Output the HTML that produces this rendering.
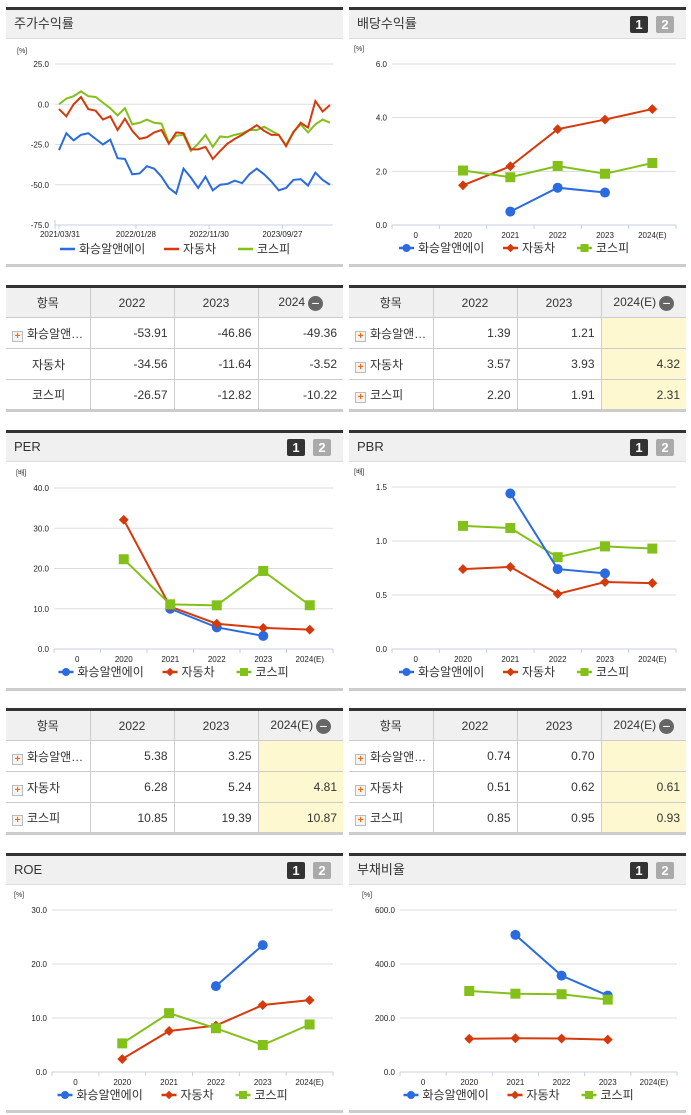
<!DOCTYPE html>
<html><head><meta charset="utf-8">
<style>
*{margin:0;padding:0;box-sizing:border-box}
body{width:691px;height:1115px;background:#fff;position:relative;overflow:hidden;font-family:"Liberation Sans","Noto Sans CJK KR",sans-serif;color:#333}
.abs{position:absolute}
.ph{position:absolute;height:32px;background:#f0f0f0;border-top:3px solid #333;border-bottom:1px solid #ddd;font-size:13px;line-height:28px;padding-left:8px;color:#333}
.pb{position:absolute;height:3px;background:#ccc}
.b1,.b2{position:absolute;top:6px;width:18px;height:17px;font-size:13px;font-weight:bold;color:#fff;text-align:center;line-height:17px;border-radius:2px}
.b1{background:#333}.b2{background:#aaa}
table{position:absolute;border-collapse:collapse;border-top:3px solid #333;border-bottom:3px solid #ccc;font-size:12px}
td,th{border:1px solid #ccc;height:31px;font-weight:normal}
td:first-child,th:first-child{border-left:none}
td:last-child,th:last-child{border-right:none}
th{background:#f0f0f0;text-align:center}
td{text-align:right;padding-right:6px}
td.n{text-align:left;padding-left:6px}
td.y{background:#fdf8d0}
.pl{display:inline-block;width:11px;height:11px;border:1px solid #bbb;background:#f4f4f4;color:#f60;font-size:10px;line-height:9px;text-align:center;font-weight:bold;margin-right:4px;vertical-align:-1px}
.mn{display:inline-block;width:15px;height:15px;border-radius:50%;background:#666;color:#fff;line-height:14px;font-size:14px;text-align:center;vertical-align:-2px;margin-left:3px}
svg{position:absolute;left:0;top:0}
svg text{font-family:"Liberation Sans","Noto Sans CJK KR",sans-serif}
</style></head><body>

<div class="ph" style="left:6px;top:7px;width:337px">주가수익률</div>
<div class="pb" style="left:6px;top:264px;width:337px"></div>
<div class="ph" style="left:349px;top:7px;width:337px">배당수익률<div class="b1" style="left:281px">1</div><div class="b2" style="left:307px">2</div></div>
<div class="pb" style="left:349px;top:264px;width:337px"></div>

<div class="ph" style="left:6px;top:430px;width:337px">PER<div class="b1" style="left:281px">1</div><div class="b2" style="left:307px">2</div></div>
<div class="pb" style="left:6px;top:688px;width:337px"></div>
<div class="ph" style="left:349px;top:430px;width:337px">PBR<div class="b1" style="left:281px">1</div><div class="b2" style="left:307px">2</div></div>
<div class="pb" style="left:349px;top:688px;width:337px"></div>

<div class="ph" style="left:6px;top:853px;width:337px">ROE<div class="b1" style="left:281px">1</div><div class="b2" style="left:307px">2</div></div>
<div class="pb" style="left:6px;top:1110px;width:337px"></div>
<div class="ph" style="left:349px;top:853px;width:337px">부채비율<div class="b1" style="left:281px">1</div><div class="b2" style="left:307px">2</div></div>
<div class="pb" style="left:349px;top:1110px;width:337px"></div>

<table style="left:6px;top:285px;width:337px">
<tr><th style="width:84px">항목</th><th style="width:84px">2022</th><th style="width:84px">2023</th><th>2024<span class="mn">−</span></th></tr>
<tr><td class="n"><span class="pl">+</span>화승알앤…</td><td>-53.91</td><td>-46.86</td><td>-49.36</td></tr>
<tr><td class="n" style="padding-left:26px">자동차</td><td>-34.56</td><td>-11.64</td><td>-3.52</td></tr>
<tr><td class="n" style="padding-left:26px">코스피</td><td>-26.57</td><td>-12.82</td><td>-10.22</td></tr>
</table>
<table style="left:349px;top:285px;width:337px">
<tr><th style="width:84px">항목</th><th style="width:84px">2022</th><th style="width:84px">2023</th><th>2024(E)<span class="mn">−</span></th></tr>
<tr><td class="n"><span class="pl">+</span>화승알앤…</td><td>1.39</td><td>1.21</td><td class="y"></td></tr>
<tr><td class="n"><span class="pl">+</span>자동차</td><td>3.57</td><td>3.93</td><td class="y">4.32</td></tr>
<tr><td class="n"><span class="pl">+</span>코스피</td><td>2.20</td><td>1.91</td><td class="y">2.31</td></tr>
</table>
<table style="left:6px;top:708px;width:337px">
<tr><th style="width:84px">항목</th><th style="width:84px">2022</th><th style="width:84px">2023</th><th>2024(E)<span class="mn">−</span></th></tr>
<tr><td class="n"><span class="pl">+</span>화승알앤…</td><td>5.38</td><td>3.25</td><td class="y"></td></tr>
<tr><td class="n"><span class="pl">+</span>자동차</td><td>6.28</td><td>5.24</td><td class="y">4.81</td></tr>
<tr><td class="n"><span class="pl">+</span>코스피</td><td>10.85</td><td>19.39</td><td class="y">10.87</td></tr>
</table>
<table style="left:349px;top:708px;width:337px">
<tr><th style="width:84px">항목</th><th style="width:84px">2022</th><th style="width:84px">2023</th><th>2024(E)<span class="mn">−</span></th></tr>
<tr><td class="n"><span class="pl">+</span>화승알앤…</td><td>0.74</td><td>0.70</td><td class="y"></td></tr>
<tr><td class="n"><span class="pl">+</span>자동차</td><td>0.51</td><td>0.62</td><td class="y">0.61</td></tr>
<tr><td class="n"><span class="pl">+</span>코스피</td><td>0.85</td><td>0.95</td><td class="y">0.93</td></tr>
</table>

<svg id="svg" width="691" height="1115"></svg>

<script>
// Stock return time series
const dateTicks = ["2021/03/31","2022/01/28","2022/11/30","2023/09/27"];
const dateTickIdx = [0,10.5,20.5,30.5];
const stockBlue = [-28.5,-18,-22.5,-19,-18,-21.5,-25,-22,-33.5,-34,-43.5,-43,-38.5,-40,-45,-52,-55.5,-40,-45.5,-52,-45,-53.5,-50,-49.5,-47.5,-49,-43.5,-40,-43.5,-48,-53.5,-52,-47,-46.5,-50.5,-42.5,-47,-50];
const stockRed = [-3,-7.5,0,4.5,-3,-4,-9.5,-7.5,-16,-9,-16.5,-21.5,-20.5,-17.5,-16,-24.5,-17.5,-18,-28,-28,-26.5,-34,-29,-24.5,-21.5,-19,-16,-13,-16.5,-19,-19,-26,-17.5,-11.5,-14.5,2,-4.5,-0.5];
const stockGreen = [0,3.5,5,8,5,4.5,1,-2.5,-7,-2.5,-12.5,-11.5,-9.5,-11.5,-12,-24,-19.5,-19,-29,-24.5,-19,-26.5,-20,-20.5,-19,-18,-16,-16,-14,-16.5,-19,-25.5,-17,-12.5,-17.5,-12.5,-9.5,-11.5];
const stockTicks = [25,0,-25,-50,-75];

// Categorical charts
const categories = ["0","2020","2021","2022","2023","2024(E)"];
const divBlue = [null,null,0.5,1.39,1.21,null];
const divRed = [null,1.48,2.19,3.57,3.93,4.32];
const divGreen = [null,2.03,1.78,2.20,1.91,2.31];
const perBlue = [null,null,10.0,5.38,3.25,null];
const perRed = [null,32.1,10.5,6.28,5.24,4.81];
const perGreen = [null,22.3,11.1,10.85,19.39,10.87];
const pbrBlue = [null,null,1.44,0.74,0.70,null];
const pbrRed = [null,0.74,0.76,0.51,0.62,0.61];
const pbrGreen = [null,1.14,1.12,0.85,0.95,0.93];
const roeBlue = [null,null,null,15.9,23.5,null];
const roeRed = [null,2.4,7.6,8.6,12.4,13.3];
const roeGreen = [null,5.3,10.9,8.1,5.0,8.8];
const debtBlue = [null,null,508,357,283,null];
const debtRed = [null,123,125,124,120,null];
const debtGreen = [null,300,290,288,268,null];
const legendNames = ["화승알앤에이","자동차","코스피"];

const svg = document.getElementById('svg');
const NS = 'http://www.w3.org/2000/svg';
const C = {b:'#2a6be0',r:'#d53a0c',g:'#84c01a'};
function mk(tag, a, parent){const e=document.createElementNS(NS,tag);for(const k in a)e.setAttribute(k,a[k]);(parent||svg).appendChild(e);return e;}
function txt(x,y,s,size,anchor,parent,fill){const t=mk('text',{x:x,y:y,'font-size':size,'text-anchor':anchor||'start',fill:fill||'#333'},parent);t.textContent=s;return t;}

function legend(cx,y,g,markers){
  const items=[[C.b,legendNames[0],82],[C.r,legendNames[1],52],[C.g,legendNames[2],50]];
  let total=0; items.forEach(i=>total+=i[2]+22);
  let x=cx-total/2;
  items.forEach((it,k)=>{
    const lg=mk('g',{},g);
    
    
    mk('line',{x1:x,y1:y-4,x2:x+15,y2:y-4,stroke:it[0],'stroke-width':2.5},lg);
    if(markers){
      if(k==0) mk('circle',{cx:x+7.5,cy:y-4,r:4,fill:it[0]},lg);
      if(k==1) mk('rect',{x:x+4.5,y:y-7,width:6,height:6,fill:it[0],transform:`rotate(45 ${x+7.5} ${y-4})`},lg);
      if(k==2) mk('rect',{x:x+3.5,y:y-8,width:8,height:8,fill:it[0]},lg);
    }
    txt(x+19,y,it[1],12,'start',lg,'#333');
    x+=it[2]+22;
  });
}

function catChart(name,x0,x1,yTop,yBot,max,ticks,unit,series){
  const g=mk('g',{});
  
  
  const n=categories.length, w=(x1-x0)/n;
  const X=i=>x0+w*(i+0.5);
  const Y=v=>yBot-(v/max)*(yBot-yTop);
  txt(x0-38,yTop-13,unit,7,'start',g);
  ticks.forEach(t=>{
    if(t>0) mk('line',{x1:x0,y1:Y(t),x2:x1,y2:Y(t),stroke:'#ddd','stroke-width':1},g);
    txt(x0-5,Y(t)+3,t.toFixed(1),8,'end',g,'#222');
  });
  mk('line',{x1:x0,y1:yBot,x2:x1,y2:yBot,stroke:'#c5cfe0','stroke-width':1},g);
  for(let i=0;i<=n;i++) mk('line',{x1:x0+w*i,y1:yBot,x2:x0+w*i,y2:yBot+4,stroke:'#c5cfe0'},g);
  categories.forEach((c,i)=>txt(X(i),yBot+13,c,8,'middle',g,'#222'));
  series.forEach(([vals,col,shape])=>{
    const sg=mk('g',{},g);
    
    
    let pts=[];vals.forEach((v,i)=>{if(v!==null)pts.push([X(i),Y(v)]);});
    mk('polyline',{points:pts.map(p=>p.join(',')).join(' '),fill:'none',stroke:col,'stroke-width':2},sg);
    pts.forEach(p=>{
      let m;
      if(shape=='circle') m=mk('circle',{cx:p[0],cy:p[1],r:5,fill:col},sg);
      else if(shape=='diamond') m=mk('rect',{x:p[0]-3.5,y:p[1]-3.5,width:7,height:7,fill:col,transform:`rotate(45 ${p[0]} ${p[1]})`},sg);
      else m=mk('rect',{x:p[0]-5,y:p[1]-5,width:10,height:10,fill:col},sg);
      
      
    });
  });
  legend((x0+x1)/2-10,yBot+27,g,true);
}

// stock chart
(function(){
  const g=mk('g',{});
  
  
  const x0=55,x1=333,px0=59,px1=330,yTop=64,yBot=225,max=25,min=-75;
  const Y=v=>yBot-(v-min)/(max-min)*(yBot-yTop);
  const N=stockBlue.length;
  const X=i=>px0+i*(px1-px0)/(N-1);
  txt(17,53,'[%]',7,'start',g);
  stockTicks.forEach(t=>{
    if(t>min) mk('line',{x1:x0,y1:Y(t),x2:x1,y2:Y(t),stroke:'#ddd'},g);
    txt(x0-6,Y(t)+3,t.toFixed(1),8,'end',g,'#222');
  });
  mk('line',{x1:x0,y1:yBot,x2:x1,y2:yBot,stroke:'#c5cfe0'},g);
  mk('line',{x1:x0,y1:yBot-5,x2:x0,y2:yBot+4,stroke:'#c5cfe0'},g);
  dateTicks.forEach((d,k)=>{
    const xx=X(dateTickIdx[k]);
    mk('line',{x1:xx,y1:yBot,x2:xx,y2:yBot+4,stroke:'#c5cfe0'},g);
    txt(k==0?xx+1:xx,yBot+12,d,8,'middle',g,'#222');
  });
  [[stockGreen,C.g],[stockRed,C.r],[stockBlue,C.b]].forEach(([v,c])=>{
    const l=mk('polyline',{points:v.map((val,i)=>X(i)+','+Y(val)).join(' '),fill:'none',stroke:c,'stroke-width':2},g);
    
    
  });
  legend(185,253,g,false);
})();

catChart('dividend-chart',392,676,64,225,6,[0,2,4,6],'[%]',[[divRed,C.r,'diamond'],[divGreen,C.g,'square'],[divBlue,C.b,'circle']]);
catChart('per-chart',54,333,488,649,40,[0,10,20,30,40],'[배]',[[perBlue,C.b,'circle'],[perRed,C.r,'diamond'],[perGreen,C.g,'square']]);
catChart('pbr-chart',392,676,487,649,1.5,[0,0.5,1.0,1.5],'[배]',[[pbrRed,C.r,'diamond'],[pbrGreen,C.g,'square'],[pbrBlue,C.b,'circle']]);
catChart('roe-chart',52,333,910,1072,30,[0,10,20,30],'[%]',[[roeBlue,C.b,'circle'],[roeRed,C.r,'diamond'],[roeGreen,C.g,'square']]);
catChart('debt-ratio-chart',400,677,910,1072,600,[0,200,400,600],'[%]',[[debtBlue,C.b,'circle'],[debtRed,C.r,'diamond'],[debtGreen,C.g,'square']]);
</script>
</body></html>
